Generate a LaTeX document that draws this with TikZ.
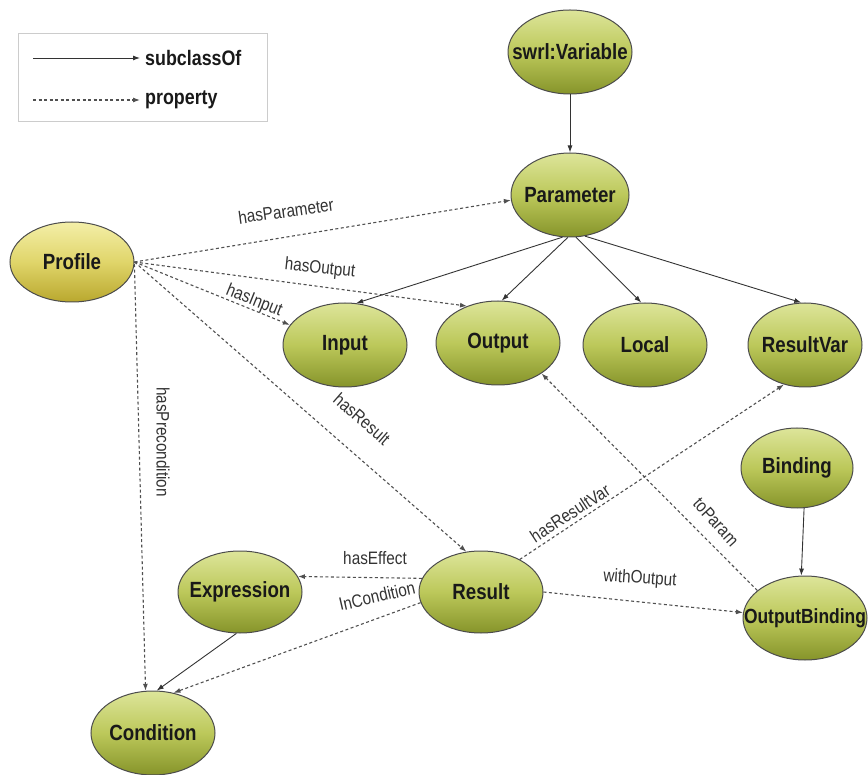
\documentclass[tikz,border=0pt]{standalone}
\usepackage{fontspec}
\setmainfont{Liberation Sans}[FakeStretch=0.85]
\usetikzlibrary{shapes.geometric,arrows.meta}

\definecolor{nodetop}{HTML}{DDE59A}
\definecolor{nodemid}{HTML}{BCC85A}
\definecolor{nodebot}{HTML}{86942A}
\definecolor{proftop}{HTML}{F4EFA8}
\definecolor{profmid}{HTML}{E0D56A}
\definecolor{profbot}{HTML}{B9A82E}
\definecolor{edgegray}{HTML}{505050}

% zero-width text box so the ellipse keeps its fixed size
\newcommand\ctext[1]{\makebox[0pt]{#1}}

\begin{document}
\begin{tikzpicture}[x=1pt,y=-1pt,
  concept/.style={ellipse, draw=black!70, line width=1pt,
    minimum width=124pt, minimum height=84pt, inner sep=0pt,
    top color=nodetop, bottom color=nodebot, middle color=nodemid,
    text=black!90, font=\fontsize{22}{24}\selectfont\bfseries},
  profcon/.style={concept, top color=proftop, bottom color=profbot, middle color=profmid},
  sub/.style={-{Latex[length=7pt,width=5pt]}, line width=0.9pt, black!80},
  prop/.style={-{Latex[length=7pt,width=5pt]}, line width=1.1pt, edgegray,
    dash pattern=on 3pt off 2.5pt},
  elabel/.style={font=\fontsize{18}{20}\selectfont, text=black!80, inner sep=0pt},
  legtext/.style={font=\fontsize{21}{23}\selectfont\bfseries, text=black!90, inner sep=0pt, anchor=west}
]
\useasboundingbox (0,0) rectangle (868,775);

% legend
\node[draw=black!20, line width=0.8pt, minimum width=249pt, minimum height=88pt, inner sep=0pt]
  (legend) at (142.5,77) {};
\coordinate (lsa) at (33,58);
\coordinate (lsb) at (140,58);
\coordinate (lpa) at (33,100);
\coordinate (lpb) at (140,100);
\draw[sub] (lsa) -- (lsb);
\draw[prop] (lpa) -- (lpb);
\node[legtext] (lsub) at (145,58) {subclassOf};
\node[legtext] (lprop) at (145,100) {property};

% concepts
\node[concept] (sv) at (570,52) {\ctext{swrl:Variable}};
\node[concept, minimum width=118pt] (param) at (570,195) {\ctext{Parameter}};
\node[profcon, minimum height=80pt] (profile) at (72,262) {\ctext{Profile}};
\node[concept] (input) at (345,345) {\ctext{Input}};
\node[concept] (output) at (498,343) {\ctext{Output}};
\node[concept] (local) at (645,345) {\ctext{Local}};
\node[concept, minimum width=114pt] (resultvar) at (805,345) {\ctext{ResultVar}};
\node[concept, minimum width=112pt, minimum height=80pt] (binding) at (797,468) {\ctext{Binding}};
\node[concept, font=\fontsize{20.5}{24}\selectfont\bfseries] (outbind) at (805,618) {\ctext{OutputBinding}};
\node[concept, minimum height=82pt] (result) at (481,592) {\ctext{Result}};
\node[concept, minimum height=82pt] (expr) at (240,592) {\ctext{Expression}};
\node[concept] (cond) at (153,733) {\ctext{Condition}};

% subclass relations
\draw[sub] (sv.south) -- (param.north);
\draw[sub] (param.-100) -- (input.75);
\draw[sub] (param.-93) -- (output.85);
\draw[sub] (param.-82) -- (local.95);
\draw[sub] (param.-70) -- (resultvar.95);
\draw[sub] (binding.-80) -- (outbind.95);
\draw[sub] (expr.-95) -- (cond.85);

% properties
\draw[prop] (profile.east) -- (param.185);
\draw[prop] (profile.east) -- (output.130);
\draw[prop] (profile.east) -- (input.160);
\draw[prop] (profile.east) -- (result.110);
\draw[prop] (profile.-2) -- (cond.100);
\draw[prop] (result.167) -- (expr.15);
\draw[prop] (result.190) -- (cond.63);
\draw[prop] (result.40) -- (resultvar.-118);
\draw[prop] (result.east) -- (outbind.175);
\draw[prop] (outbind.150) -- (output.-35);

% property labels
\node[elabel, rotate=8] (lhp) at (286,211) {hasParameter};
\node[elabel, rotate=-6] (lho) at (320,269) {hasOutput};
\node[elabel, rotate=-22] (lhi) at (254,301) {hasInput};
\node[elabel, rotate=-41] (lhr) at (362,419) {hasResult};
\node[elabel, rotate=-90] (lhpc) at (163,442) {hasPrecondition};
\node[elabel] (lhe) at (375,558) {hasEffect};
\node[elabel, rotate=13] (lic) at (377,596) {InCondition};
\node[elabel, rotate=33] (lhrv) at (570,513) {hasResultVar};
\node[elabel, rotate=-4] (lwo) at (640,579) {withOutput};
\node[elabel, rotate=-48] (ltp) at (716,522) {toParam};
\end{tikzpicture}
\end{document}
